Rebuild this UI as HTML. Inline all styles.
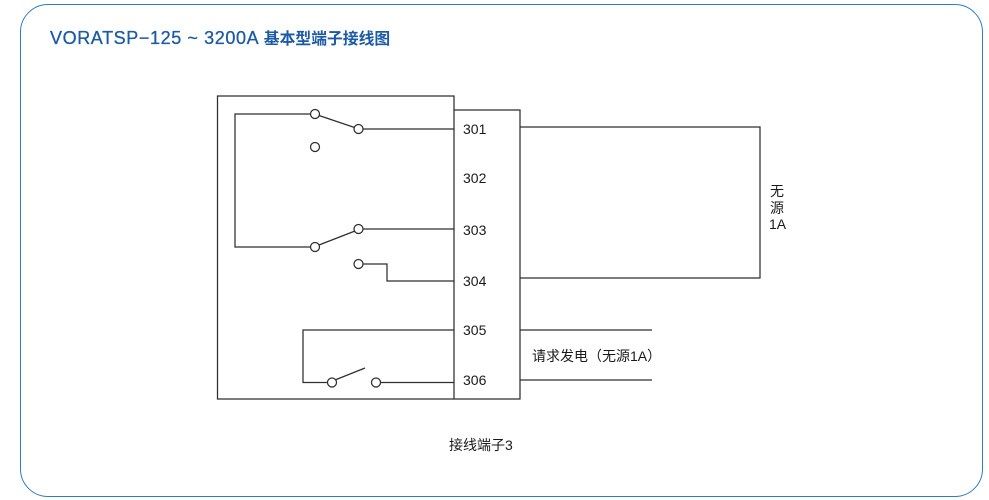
<!DOCTYPE html>
<html><head><meta charset="utf-8">
<style>
html,body{margin:0;padding:0;background:#fff;}
body{width:989px;height:500px;position:relative;overflow:hidden;}
.frame{position:absolute;left:20px;top:4px;width:963px;height:493px;border:1.5px solid #2c7cc6;border-radius:28px;box-sizing:border-box;}
.title{position:absolute;left:50px;top:26px;height:24px;line-height:24px;color:#1c5aa6;font-family:"Liberation Sans","Noto Sans CJK SC",sans-serif;white-space:nowrap;}
.title .lat{font-size:18px;letter-spacing:0.6px;-webkit-text-stroke:0.3px #1c5aa6;}
.title .cjk{font-size:15.8px;font-weight:bold;letter-spacing:0px;}
svg{position:absolute;left:0;top:0;}
</style></head>
<body>
<div class="frame"></div>
<div class="title"><span class="lat">VORATSP−125 ~ 3200A </span><span class="cjk">基本型端子接线图</span></div>
<svg width="989" height="500" viewBox="0 0 989 500" xmlns="http://www.w3.org/2000/svg">
<g fill="none" stroke="#2e2e2e" stroke-width="1.25">
  <!-- outer box -->
  <polyline points="454,110 454,96 217.5,96 217.5,399 520,399 520,110 454,110 454,399"/>
  <!-- switch 1 -->
  <polyline points="311,114 235,114 235,247 311,247"/>
  <line x1="319" y1="115.5" x2="354.5" y2="127.5"/>
  <line x1="363" y1="129" x2="454" y2="129"/>
  <!-- switch 2 -->
  <line x1="319" y1="245" x2="355" y2="231"/>
  <line x1="363" y1="229" x2="454" y2="229"/>
  <polyline points="363,264 387,264 387,281 454,281"/>
  <!-- switch 3 -->
  <polyline points="454,330 303,330 303,382.5 327.5,382.5"/>
  <line x1="335" y1="380" x2="365" y2="368"/>
  <line x1="380.5" y1="382.5" x2="454" y2="382.5"/>
  <!-- right loop -->
  <polyline points="520,127 760,127 760,278 520,278"/>
  <line x1="520" y1="330" x2="652" y2="330"/>
  <line x1="520" y1="380" x2="652" y2="380"/>
  <!-- circles -->
  <circle cx="315" cy="114" r="4.5" fill="#fff"/>
  <circle cx="358.5" cy="129" r="4.5" fill="#fff"/>
  <circle cx="315" cy="147" r="4.5" fill="#fff"/>
  <circle cx="315" cy="247" r="4.5" fill="#fff"/>
  <circle cx="358.5" cy="229" r="4.5" fill="#fff"/>
  <circle cx="358.5" cy="264" r="4.5" fill="#fff"/>
  <circle cx="332" cy="382.5" r="4.5" fill="#fff"/>
  <circle cx="376" cy="382.5" r="4.5" fill="#fff"/>
</g>
<g fill="#1a1a1a" font-family="Liberation Sans, Noto Sans CJK SC, sans-serif" font-size="14">
  <text x="463" y="134">301</text>
  <text x="463" y="183">302</text>
  <text x="463" y="235">303</text>
  <text x="463" y="286">304</text>
  <text x="463" y="335">305</text>
  <text x="463" y="385">306</text>
  <text x="770" y="196" font-size="14">无</text>
  <text x="770" y="213" font-size="14">源</text>
  <text x="769" y="229" font-size="14">1A</text>
  <text x="532" y="361" font-size="14">请求发电（无源1A）</text>
  <text x="449" y="450" font-size="14">接线端子3</text>
</g>
</svg>
</body></html>
